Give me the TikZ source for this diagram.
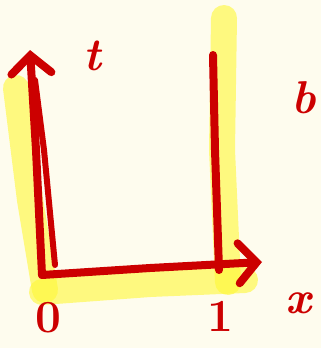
\documentclass[tikz,border=0pt]{standalone}
\usepackage{fontspec}
\usepackage{tikz}
\usetikzlibrary{arrows.meta}
\definecolor{paper}{HTML}{FEFCEE}
\definecolor{pen}{HTML}{CC0000}
\definecolor{marker}{HTML}{FFF836}

\begin{document}
\begin{tikzpicture}[x=1pt,y=-1pt,
  >={Straight Barb[length=18pt,width=40pt,line cap=round]},
  hl/.style={marker,opacity=.6,line width=26pt,line cap=round},
  ink/.style={pen,line width=8pt,line cap=round,line join=round},
  lbl/.style={pen,font=\fontsize{46}{48}\selectfont\bfseries}]
\fill[paper] (0,0) rectangle (321,348);
\useasboundingbox (0,0) rectangle (321,348);
% corners of the sketch
\coordinate (o) at (42,275);
\coordinate (ztip) at (30,50);
\coordinate (xtip) at (262,262);
\coordinate (top) at (213,55);
\coordinate (foot) at (219,270);
% marker underlay
\draw[hl] (16,88) -- (30,200) -- (45,290);
\draw[hl] (42,292) -- (150,284) -- (245,280);
\draw[hl] (224,18) -- (222,150) -- (228,282);
% axes
\draw[ink,->] (o) -- (36,150) -- (ztip);
\draw[ink,line width=6pt] (55,265) -- (44,150) -- (35,80);
\draw[ink,->] (o) -- (150,268) -- (xtip);
\draw[ink] (top) -- (215,150) -- (foot);
% labels
\node[lbl] (t) at (92,56) {\itshape t};
\node[lbl] (b) at (304,98) {\itshape b};
\node[lbl] (zero) at (48,318) {0};
\node[lbl] (one) at (220,316) {1};
\node[lbl] (x) at (298,303) {\itshape x};
\end{tikzpicture}
\end{document}
